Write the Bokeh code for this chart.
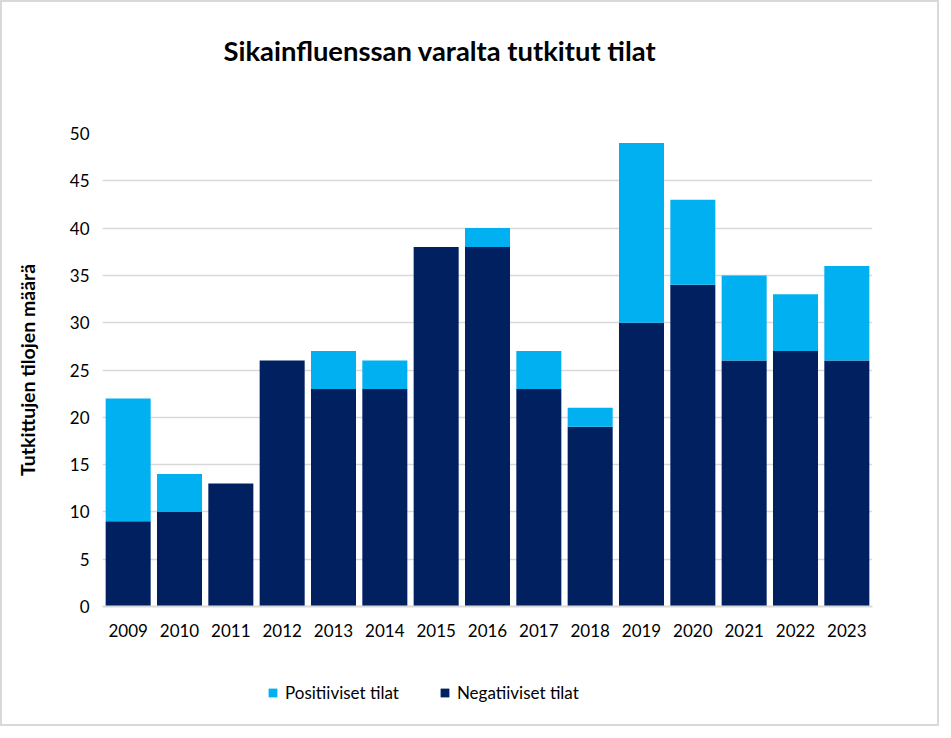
from bokeh.plotting import figure
from bokeh.models import Range1d, Legend, LegendItem, Label, Column
from bokeh.embed import file_html
from bokeh.resources import INLINE

years = ["2009", "2010", "2011", "2012", "2013", "2014", "2015", "2016",
         "2017", "2018", "2019", "2020", "2021", "2022", "2023"]
negatiiviset = [9, 10, 13, 26, 23, 23, 38, 38, 23, 19, 30, 34, 26, 27, 26]
positiiviset = [13, 4, 0, 0, 4, 3, 0, 2, 4, 2, 19, 9, 9, 6, 10]
series_labels = ["Positiiviset tilat", "Negatiiviset tilat"]
title_text = "Sikainfluenssan varalta tutkitut tilat"
y_label = "Tutkittujen tilojen määrä"

FONT = "Lato"
NEG = "#002060"
POS = "#00b0f0"
GRID = "#d9d9d9"


def blank(fig):
    fig.outline_line_color = None
    fig.xgrid.grid_line_color = None
    fig.ygrid.grid_line_color = None


# header strip with the title
h = figure(x_range=Range1d(0, 1), y_range=Range1d(0, 1), width=935, height=110,
           output_backend="svg", toolbar_location=None, min_border=0,
           x_axis_location=None, y_axis_location=None)
blank(h)
h.add_layout(Label(x=121, y=62, x_units="screen", y_units="screen",
                   text=title_text, text_font=FONT, text_font_size="27.4px",
                   text_font_style="bold", text_color="#000000",
                   text_align="left", text_baseline="middle"))

# main chart
p = figure(x_range=years, y_range=Range1d(0, 50), width=935, height=550,
           output_backend="svg", toolbar_location=None,
           min_border_left=100, min_border_right=65, min_border_top=21,
           min_border_bottom=56)

data = {"years": years, "neg": negatiiviset, "pos": positiiviset}
rs = p.vbar_stack(["neg", "pos"], x="years", width=0.877, color=[NEG, POS],
                  source=data, line_width=0)

p.x_range.range_padding = 0
p.outline_line_color = None
p.xgrid.grid_line_color = None
p.ygrid.grid_line_color = GRID
p.ygrid.grid_line_width = 1.5
p.yaxis.ticker = list(range(0, 51, 5))

p.xaxis.axis_line_color = GRID
p.xaxis.axis_line_width = 2
p.xaxis.major_tick_line_color = None
p.xaxis.minor_tick_line_color = None
p.xaxis.major_label_standoff = 11
p.xaxis.major_label_text_font = FONT
p.xaxis.major_label_text_font_size = "17px"
p.xaxis.major_label_text_color = "#000000"

p.yaxis.axis_line_color = None
p.yaxis.major_tick_line_color = None
p.yaxis.minor_tick_line_color = None
p.yaxis.major_label_standoff = 7
p.yaxis.major_label_text_font = FONT
p.yaxis.major_label_text_font_size = "17px"
p.yaxis.major_label_text_color = "#000000"
p.yaxis.axis_label = y_label
p.yaxis.axis_label_text_font = FONT
p.yaxis.axis_label_text_font_size = "19.5px"
p.yaxis.axis_label_text_font_style = "bold"
p.yaxis.axis_label_standoff = 28
p.yaxis.axis_label_text_color = "#000000"

# legend strip below the chart
q = figure(x_range=Range1d(0, 1), y_range=Range1d(0, 1), width=935, height=62,
           output_backend="svg", toolbar_location=None,
           min_border=0, x_axis_location=None, y_axis_location=None)
blank(q)
r_pos = q.vbar(x=[0], top=[0], width=0, color=POS, line_width=0)
r_neg = q.vbar(x=[0], top=[0], width=0, color=NEG, line_width=0)
legend = Legend(items=[LegendItem(label=series_labels[0], renderers=[r_pos]),
                       LegendItem(label=series_labels[1], renderers=[r_neg])],
                orientation="horizontal", location=(165, 21),
                label_text_font=FONT, label_text_font_size="17px",
                label_text_color="#000000",
                glyph_width=11, glyph_height=11, label_height=20,
                spacing=40, padding=0, margin=0, border_line_color=None,
                label_standoff=7, background_fill_alpha=0)
q.add_layout(legend, "center")

layout = Column(h, p, q, spacing=0)
layout.styles = {"border": "2px solid #d9d9d9"}

open("out.html", "w").write(file_html(layout, INLINE))
